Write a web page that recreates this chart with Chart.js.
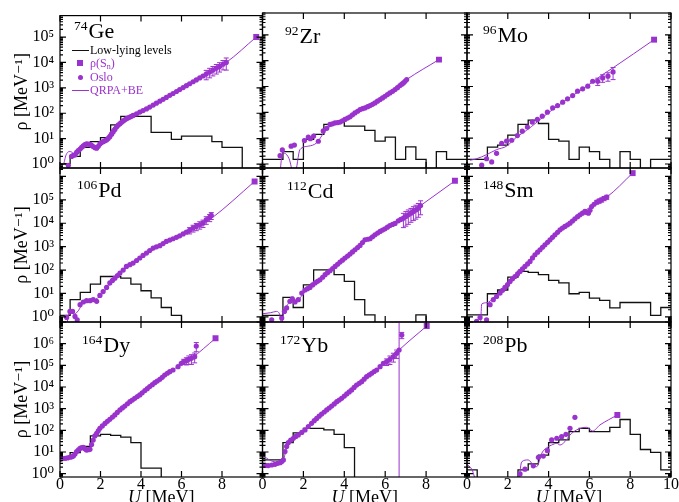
<!DOCTYPE html>
<html>
<head>
<meta charset="utf-8">
<title>Level densities</title>
<script src="https://cdn.jsdelivr.net/npm/chart.js@4.4.1/dist/chart.umd.min.js"></script>
<style>
  html, body { margin: 0; padding: 0; background: #fff; }
  #figure { position: relative; width: 679px; height: 502px; overflow: hidden; font-family: "Liberation Serif", "DejaVu Serif", serif; }
  #figure canvas { position: absolute; left: 0; top: 0; }
  .nucleus { position: absolute; font-size: 22px; line-height: 22px; white-space: nowrap; color: #000; }
  .nucleus sup { font-size: 13.5px; position: relative; top: -8px; vertical-align: baseline; margin-right: 1px; }
  .xtitle { position: absolute; width: 120px; text-align: center; font-size: 18px; line-height: 18px; white-space: nowrap; color: #000; }
  .legend-row { position: absolute; left: 71px; height: 14px; line-height: 14px; font-size: 12px; white-space: nowrap; }
  .legend-row .sym { position: absolute; left: 0; top: 0; width: 19px; height: 14px; }
  .legend-row .txt { position: absolute; left: 19px; top: 0; }
  .legend-row sub { font-size: 8px; vertical-align: -2px; }
</style>
</head>
<body>
<div id="figure"></div>
<script>
// ---- values ----
const levelEdges = [0, 0.5, 1, 1.5, 2, 2.5, 3, 3.5, 4, 4.5, 5, 5.5, 6, 6.5, 7, 7.5, 8, 8.5, 9, 9.5, 10];
const xTickValues = [0, 2, 4, 6, 8, 10];
const yTicksShort = [1, 10, 100, 1e3, 1e4, 1e5];
const yTicksLong = [1, 10, 100, 1e3, 1e4, 1e5, 1e6];
const rowMin = [0.7, 0.6, 0.7];
const rowMax = [7e5, 2.3e6, 1e7];

// 74Ge
const geLevels = [1.05, 2.0, 4.5, 7.6, 11, 35, 75, 75, 75, 17.6, 17.6, 9.4, 12.5, 12.5, 12.5, 7.6, 4.5, 4.5, 0, 0];
const geOsloU = [0.41, 0.57, 0.66, 0.74, 0.82, 0.9, 0.99, 1.07, 1.15, 1.23, 1.31, 1.4, 1.48, 1.56, 1.64, 1.73, 1.81, 1.89, 1.97, 2.05, 2.13, 2.22, 2.3, 2.38, 2.46, 2.55, 2.63, 2.71, 2.79, 2.87, 2.96, 3.04, 3.12, 3.2, 3.28, 3.37, 3.45, 3.53, 3.61, 3.78, 3.94, 4.1, 4.27, 4.43, 4.6, 4.76, 4.93, 5.09, 5.25, 5.42, 5.58, 5.75, 5.91, 6.08, 6.24, 6.4, 6.57, 6.73, 6.9, 7.06, 7.22, 7.39, 7.55, 7.72, 7.88, 8.05, 8.21];
const geOsloRho = [0.9, 2.0, 2.2, 2.3, 2.9, 3.4, 3.9, 4.6, 5.2, 5.9, 6.2, 6.1, 6.0, 5.4, 4.9, 4.4, 4.2, 5.0, 6.2, 7.0, 7.6, 8.2, 8.9, 10.2, 12, 15, 18.6, 23, 29, 34, 39, 44, 50, 55, 61, 66, 71, 76, 82, 95, 111, 128, 148, 175, 210, 250, 300, 355, 420, 510, 600, 720, 860, 1030, 1220, 1450, 1740, 2060, 2470, 2930, 3480, 4180, 4950, 5900, 7000, 8500, 10000];
const geOsloErr = [1400, 1700, 2000, 2400, 2800, 3400, 5000]; // last points only
const geQrpaU = [0, 0.16, 0.3, 0.45, 0.62, 0.74, 0.9, 1.15, 1.35, 1.55, 1.8, 2.0, 2.3, 2.6, 3.0, 3.5, 4.0, 5.0, 6.0, 7.0, 8.0, 8.21, 9.69];
const geQrpaRho = [1.0, 1.0, 2.3, 3.1, 2.8, 2.0, 2.5, 4.3, 6.5, 5.6, 3.7, 6.1, 11, 25, 50, 80, 112, 320, 950, 2800, 8000, 10000, 100000];
const geSn = [9.69, 100000];

// 92Zr
const zrLevels = [1.5, 1.5, 3.0, 1.5, 8.9, 14, 34, 42, 29, 29, 20, 7.7, 11, 1.5, 4.6, 1.5, 0, 3.0, 1.5, 1.5];
const zrOsloU = [0.86, 0.97, 1.4, 1.56, 2.05, 2.24, 2.34, 2.5, 2.73, 2.97, 3.14, 3.3, 3.42, 3.54, 3.67, 3.79, 3.91, 4.03, 4.16, 4.28, 4.4, 4.52, 4.65, 4.77, 4.89, 5.01, 5.14, 5.26, 5.38, 5.5, 5.62, 5.75, 5.87, 5.99, 6.11, 6.23, 6.36, 6.48, 6.6, 6.72, 6.81, 6.89, 6.97, 7.05];
const zrOsloRho = [2.1, 3.5, 4.9, 5.4, 8.1, 11, 9.5, 12, 7.6, 19, 24, 34, 36, 39, 40, 42, 47, 53, 60, 67, 80, 95, 110, 128, 138, 148, 165, 183, 205, 232, 270, 312, 360, 420, 490, 564, 650, 760, 900, 1086, 1230, 1380, 1600, 1860];
const zrOsloErr = [];
const zrQrpaU = [0.86, 0.95, 1.07, 1.3, 1.5, 1.6, 1.83, 2.24, 2.65, 3.06, 3.38, 3.79, 4.28, 5.01, 5.99, 7.05, 8.63];
const zrQrpaRho = [0.5, 2.0, 2.6, 1.6, 0.5, 0.5, 3.6, 4.9, 6.6, 19, 31, 42, 67, 148, 420, 1860, 11000];
const zrSn = [8.63, 11000];

// 96Mo
const moLevels = [1.5, 1.5, 4.5, 5.4, 13, 34, 50, 37, 8.9, 7.7, 1.5, 4.5, 3.0, 1.5, 0, 3.0, 1.5, 0, 1.5, 1.5];
const moOsloU = [0.72, 0.96, 1.21, 1.45, 1.70, 1.94, 2.19, 2.47, 2.71, 2.96, 3.20, 3.45, 3.69, 3.94, 4.20, 4.44, 4.69, 4.93, 5.18, 5.42, 5.67, 5.92, 6.16, 6.41, 6.65, 6.91, 7.16];
const moOsloRho = [0.9, 1.6, 1.2, 2.6, 6.3, 7.7, 8.3, 12.6, 18.6, 27, 42, 53, 71, 101, 148, 183, 247, 333, 447, 661, 813, 1030, 1600, 1600, 2150, 2500, 3650];
const moOsloErr = [500, 700, 900, 1800];
const moQrpaU = [0.15, 0.47, 0.96, 1.45, 1.94, 2.43, 2.92, 3.43, 3.94, 4.93, 5.92, 6.65, 7.16, 9.17];
const moQrpaRho = [1.4, 1.6, 2.3, 3.6, 4.9, 11, 20, 42, 90, 330, 1100, 2900, 5300, 65000];
const moSn = [9.17, 65000];

// 106Pd
const pdLevels = [1.15, 5.4, 11, 25, 53, 53, 45, 25, 13, 6.4, 2.5, 1.15, 0, 0, 0, 0, 0, 0, 0, 0];
const pdOsloU = [0.33, 0.49, 0.62, 0.74, 0.85, 0.99, 1.15, 1.31, 1.48, 1.64, 1.81, 1.97, 2.13, 2.30, 2.46, 2.59, 2.71, 2.84, 2.96, 3.12, 3.28, 3.45, 3.61, 3.78, 3.94, 4.1, 4.27, 4.43, 4.6, 4.76, 4.93, 5.09, 5.25, 5.42, 5.58, 5.75, 5.91, 6.08, 6.24, 6.4, 6.57, 6.73, 6.9, 7.06, 7.22, 7.39, 7.47];
const pdOsloRho = [0.94, 1.7, 1.7, 1.04, 0.74, 3.3, 4.3, 4.9, 4.9, 5.4, 4.6, 8.2, 12, 18, 28, 36, 45, 58, 74, 100, 143, 170, 198, 255, 327, 420, 530, 680, 870, 980, 1100, 1350, 1670, 1900, 2170, 2500, 2900, 3500, 4170, 5000, 6200, 7300, 8600, 10100, 14000, 17700, 21500];
const pdOsloErr = [1500, 2000, 2500, 3000, 3500, 5000, 6000, 7000];
const pdQrpaU = [0.33, 0.5, 0.7, 0.9, 1.15, 1.5, 1.97, 2.46, 2.96, 3.94, 4.93, 5.91, 6.9, 7.47, 9.61];
const pdQrpaRho = [0.5, 1.8, 1.3, 1.8, 4.0, 4.7, 7.5, 24, 70, 320, 1050, 2900, 8000, 16000, 611000];
const pdSn = [9.61, 611000];

// 112Cd
const cdLevels = [1.15, 1.15, 6.8, 2.5, 23, 102, 102, 63, 33, 5.4, 1.2, 0, 0, 0, 0, 1.2, 0, 0, 0, 0];
const cdOsloU = [0.45, 0.94, 1.07, 1.18, 1.34, 1.46, 1.59, 1.75, 1.92, 2.08, 2.2, 2.32, 2.45, 2.57, 2.69, 2.81, 2.94, 3.06, 3.18, 3.30, 3.43, 3.55, 3.67, 3.79, 3.91, 4.03, 4.16, 4.28, 4.4, 4.52, 4.65, 4.77, 4.89, 5.01, 5.14, 5.26, 5.38, 5.50, 5.63, 5.75, 5.87, 5.99, 6.11, 6.23, 6.36, 6.48, 6.64, 6.76, 6.89, 7.01, 7.13, 7.26, 7.38, 7.5, 7.62, 7.73];
const cdOsloRho = [0.74, 0.88, 1.7, 2.4, 4.6, 5.9, 4.3, 5.4, 10.3, 14, 16, 18, 23, 28, 33, 38, 49, 63, 77, 93, 115, 143, 177, 219, 265, 324, 395, 480, 595, 735, 910, 1130, 1500, 1970, 2070, 2170, 2650, 3200, 3800, 4470, 5100, 5800, 6800, 8000, 8900, 9800, 12700, 14500, 16500, 19500, 23000, 27000, 32000, 37000, 44000, 57000];
const cdOsloErr = [10000, 12000, 14000, 16000, 19000, 22000, 26000, 34000];
const cdQrpaU = [0, 0.4, 0.69, 0.85, 0.94, 1.05, 1.2, 1.46, 1.7, 2.0, 2.5, 3.0, 4.0, 5.0, 6.0, 7.0, 7.73, 9.41];
const cdQrpaRho = [1.35, 1.5, 1.7, 1.2, 0.5, 1.5, 3.0, 5.5, 5.0, 10, 26, 58, 300, 1900, 5800, 20000, 57000, 650000];
const cdSn = [9.41, 650000];

// 148Sm
const smLevels = [1.2, 1.2, 9.7, 14, 50, 87, 79, 63, 36, 28, 9.7, 11, 6.3, 5.0, 2.4, 4.1, 4.1, 4.1, 1.15, 2.5];
const smOsloU = [0.47, 0.64, 0.96, 1.13, 1.29, 1.45, 1.62, 1.74, 1.86, 1.99, 2.11, 2.23, 2.35, 2.48, 2.60, 2.72, 2.84, 2.97, 3.09, 3.21, 3.33, 3.46, 3.58, 3.70, 3.82, 3.95, 4.07, 4.19, 4.31, 4.44, 4.56, 4.68, 4.80, 4.93, 5.05, 5.17, 5.29, 5.42, 5.54, 5.66, 5.78, 5.87, 5.95, 6.03, 6.11, 6.23, 6.36, 6.48, 6.60, 6.72, 6.85];
const smOsloRho = [0.64, 0.94, 0.75, 3.3, 5.4, 7.4, 10.3, 13.5, 18, 24, 32.5, 42, 53, 68, 87, 112, 143, 183, 234, 330, 450, 580, 735, 940, 1200, 1530, 1960, 2500, 3200, 4100, 5250, 6200, 7300, 8600, 10100, 12500, 15500, 19000, 23000, 27000, 32000, 29000, 27000, 36000, 52000, 65000, 80000, 90000, 100000, 115000, 131000];
const smOsloErr = [15000, 18000, 20000, 23000, 26000];
const smQrpaU = [0.67, 0.72, 0.98, 1.3, 1.86, 2.6, 3.58, 4.56, 5.54, 6.36, 6.85, 8.12];
const smQrpaRho = [0.5, 3.5, 4.0, 6.5, 19, 90, 740, 5300, 23000, 80000, 131000, 1390000];
const smSn = [8.12, 1390000];

// 164Dy
const dyLevels = [5.1, 9.3, 18, 55, 65, 59, 48, 27, 1.8, 1.8, 0, 0, 0, 0, 0, 0, 0, 0, 0, 0];
const dyOsloU = [0, 0.12, 0.25, 0.37, 0.49, 0.58, 0.66, 0.74, 0.82, 0.91, 0.99, 1.07, 1.15, 1.23, 1.31, 1.4, 1.48, 1.56, 1.64, 1.72, 1.81, 1.89, 1.97, 2.09, 2.22, 2.34, 2.46, 2.59, 2.71, 2.83, 2.96, 3.08, 3.20, 3.33, 3.45, 3.57, 3.69, 3.82, 3.94, 4.06, 4.19, 4.31, 4.43, 4.56, 4.68, 4.8, 4.93, 5.05, 5.17, 5.3, 5.42, 5.58, 5.83, 5.99, 6.11, 6.24, 6.36, 6.49, 6.65, 6.73];
const dyOsloRho = [4.6, 5.0, 5.1, 5.3, 5.7, 6.0, 6.5, 8.0, 10.4, 12.5, 14.8, 15.5, 16.4, 14, 12.3, 12.8, 13.2, 22, 35.5, 55, 72, 95, 123, 160, 209, 260, 322, 410, 512, 670, 870, 1080, 1320, 1680, 2100, 2500, 3000, 3600, 4300, 5400, 6800, 8400, 10400, 12800, 15800, 18800, 22600, 28000, 35800, 43000, 51000, 61000, 87000, 124000, 150000, 164000, 190000, 210000, 250000, 775000];
const dyOsloErr = [40000, 60000, 80000, 100000, 120000, 350000];
const dyQrpaU = [0, 0.49, 0.82, 0.99, 1.15, 1.31, 1.48, 1.64, 1.81, 2.46, 3.45, 4.43, 5.42, 6.49, 7.68];
const dyQrpaRho = [4.6, 5.7, 10, 14, 15, 12, 13, 36, 72, 322, 2100, 10400, 51000, 210000, 1760000];
const dySn = [7.68, 1760000];

// 172Yb
const ybLevels = [4.3, 4.3, 27, 77, 123, 123, 104, 65, 16, 0, 0, 0, 0, 0, 0, 0, 0, 0, 0, 0];
const ybOsloU = [0, 0.14, 0.28, 0.45, 0.61, 0.74, 0.86, 0.94, 1.02, 1.1, 1.18, 1.26, 1.38, 1.51, 1.63, 1.75, 1.92, 2.08, 2.24, 2.40, 2.53, 2.65, 2.77, 2.89, 3.02, 3.14, 3.26, 3.38, 3.51, 3.63, 3.75, 3.87, 4.0, 4.12, 4.24, 4.36, 4.48, 4.60, 4.73, 4.85, 4.97, 5.09, 5.22, 5.34, 5.46, 5.58, 5.75, 5.91, 6.07, 6.23, 6.40, 6.56, 6.68, 6.81];
const ybOsloRho = [2.5, 2.4, 2.35, 2.5, 2.7, 3.0, 3.2, 3.6, 4.3, 10.4, 18, 27, 35, 43, 52, 61, 80, 104, 150, 210, 280, 355, 450, 563, 700, 870, 1070, 1320, 1650, 2100, 2500, 3000, 3800, 4800, 5900, 7300, 9500, 12300, 14700, 17600, 23000, 30000, 36000, 43000, 52000, 61000, 87000, 124000, 148000, 189000, 251000, 358000, 510000, 2500000];
const ybOsloErr = [50000, 80000, 110000, 150000, 15000000, 800000];
const ybQrpaU = [0, 0.4, 0.86, 1.02, 1.26, 1.75, 2.4, 3.38, 4.36, 5.34, 6.23, 6.68, 8.03];
const ybQrpaRho = [7.2, 4.0, 3.3, 4.5, 27, 61, 210, 1320, 7300, 43000, 189000, 510000, 6500000];
const ybSn = [8.03, 6500000];

// 208Pb
const pbLevels = [1.5, 0, 0, 0, 0, 1.5, 2.8, 7.2, 27, 36, 87, 123, 87, 87, 138, 316, 65, 13, 9.5, 1.5];
const pbOsloU = [2.60, 2.84, 3.25, 3.50, 3.74, 3.94, 4.15, 4.40, 4.64, 4.85, 5.05, 5.29];
const pbOsloRho = [0.97, 1.6, 2.3, 5.7, 6.5, 11.5, 36, 43, 51, 65, 123, 396];
const pbOsloErr = [];
const pbQrpaU = [0, 0.25, 0.45, 2.52, 2.68, 3.0, 3.25, 3.42, 3.66, 3.99, 4.15, 4.40, 4.56, 4.80, 5.05, 5.37, 5.86, 6.16, 6.52, 6.93, 7.37];
const pbQrpaRho = [2.8, 1.5, 0.5, 0.5, 3.5, 4.3, 2.5, 2.1, 8.7, 17.6, 21, 25, 21, 30, 61, 104, 138, 93, 178, 302, 510];
const pbSn = [7.37, 510];

const panels = [
    { mass: '74', name: 'Ge', levels: geLevels, osloU: geOsloU, osloRho: geOsloRho, osloErr: geOsloErr, qrpaU: geQrpaU, qrpaRho: geQrpaRho, sn: geSn },
    { mass: '92', name: 'Zr', levels: zrLevels, osloU: zrOsloU, osloRho: zrOsloRho, osloErr: zrOsloErr, qrpaU: zrQrpaU, qrpaRho: zrQrpaRho, sn: zrSn },
    { mass: '96', name: 'Mo', levels: moLevels, osloU: moOsloU, osloRho: moOsloRho, osloErr: moOsloErr, qrpaU: moQrpaU, qrpaRho: moQrpaRho, sn: moSn },
    { mass: '106', name: 'Pd', levels: pdLevels, osloU: pdOsloU, osloRho: pdOsloRho, osloErr: pdOsloErr, qrpaU: pdQrpaU, qrpaRho: pdQrpaRho, sn: pdSn },
    { mass: '112', name: 'Cd', levels: cdLevels, osloU: cdOsloU, osloRho: cdOsloRho, osloErr: cdOsloErr, qrpaU: cdQrpaU, qrpaRho: cdQrpaRho, sn: cdSn },
    { mass: '148', name: 'Sm', levels: smLevels, osloU: smOsloU, osloRho: smOsloRho, osloErr: smOsloErr, qrpaU: smQrpaU, qrpaRho: smQrpaRho, sn: smSn },
    { mass: '164', name: 'Dy', levels: dyLevels, osloU: dyOsloU, osloRho: dyOsloRho, osloErr: dyOsloErr, qrpaU: dyQrpaU, qrpaRho: dyQrpaRho, sn: dySn },
    { mass: '172', name: 'Yb', levels: ybLevels, osloU: ybOsloU, osloRho: ybOsloRho, osloErr: ybOsloErr, qrpaU: ybQrpaU, qrpaRho: ybQrpaRho, sn: ybSn },
    { mass: '208', name: 'Pb', levels: pbLevels, osloU: pbOsloU, osloRho: pbOsloRho, osloErr: pbOsloErr, qrpaU: pbQrpaU, qrpaRho: pbQrpaRho, sn: pbSn },
];

// ---- layout ----
const W = 679, H = 502;
const colEdges = [60, 262.5, 467, 671];
const rowEdges = [13, 168, 322, 477];
const labelPos = [[74, 38], [285, 43], [483, 42], [77, 197], [287, 198], [483, 197], [82, 352], [280, 352], [483, 352]];
const PURPLE = '#9a32cd';
const FONT = "'Liberation Serif', 'DejaVu Serif', serif";
const SUP = { '-1': '⁻¹', '0': '⁰', '1': '¹', '2': '²', '3': '³', '4': '⁴', '5': '⁵', '6': '⁶', '7': '⁷' };

function powerLabel(v) {
    const e = Math.round(Math.log10(v));
    return '10' + SUP[String(e)];
}

// inward ticks on all four sides + frame
const framePlugin = {
    id: 'frame',
    afterDraw(chart) {
        const { ctx, chartArea: a } = chart;
        const x = chart.scales.x, y = chart.scales.y;
        ctx.save();
        ctx.strokeStyle = '#000';
        ctx.lineWidth = 1.2;
        ctx.beginPath();
        xTickValues.forEach(v => {
            const px = x.getPixelForValue(v);
            ctx.moveTo(px, a.bottom); ctx.lineTo(px, a.bottom - 6);
            ctx.moveTo(px, a.top); ctx.lineTo(px, a.top + 6);
        });
        for (let e = -1; e <= 7; e++) {
            for (let m = 1; m <= 9; m++) {
                const v = m * Math.pow(10, e);
                if (v < y.min || v > y.max) continue;
                const py = y.getPixelForValue(v);
                const len = m === 1 ? 6 : 3;
                ctx.moveTo(a.left, py); ctx.lineTo(a.left + len, py);
                ctx.moveTo(a.right, py); ctx.lineTo(a.right - len, py);
            }
        }
        ctx.stroke();
        ctx.strokeRect(a.left, a.top, a.right - a.left, a.bottom - a.top);
        ctx.restore();
    }
};

// vertical error bars for the last Oslo points
const errorBarPlugin = {
    id: 'errorBars',
    afterDatasetsDraw(chart) {
        const { ctx, chartArea: a } = chart;
        const y = chart.scales.y;
        ctx.save();
        ctx.beginPath();
        ctx.rect(a.left, a.top, a.right - a.left, a.bottom - a.top);
        ctx.clip();
        chart.data.datasets.forEach((ds, i) => {
            if (!ds.errorBars || !ds.errorBars.length) return;
            const meta = chart.getDatasetMeta(i);
            const off = ds.data.length - ds.errorBars.length;
            ctx.strokeStyle = PURPLE;
            ctx.lineWidth = 1;
            ds.errorBars.forEach((err, k) => {
                const pt = meta.data[off + k];
                const v = ds.data[off + k].y;
                const top = y.getPixelForValue(v + err);
                const bot = v - err > 0 ? y.getPixelForValue(v - err) : a.bottom + 5;
                ctx.beginPath();
                ctx.moveTo(pt.x, top); ctx.lineTo(pt.x, bot);
                ctx.moveTo(pt.x - 2.5, top); ctx.lineTo(pt.x + 2.5, top);
                ctx.moveTo(pt.x - 2.5, bot); ctx.lineTo(pt.x + 2.5, bot);
                ctx.stroke();
            });
        });
        ctx.restore();
    }
};

function makePanel(p, idx) {
    const row = Math.floor(idx / 3), col = idx % 3;
    const fig = document.getElementById('figure');
    const canvas = document.createElement('canvas');
    canvas.width = W;
    canvas.height = H;
    fig.appendChild(canvas);

    // empty bins drop below the axis
    const levelData = levelEdges.map((e, i) => {
        const v = p.levels[Math.min(i, p.levels.length - 1)];
        return { x: e, y: v > 0 ? v : 1e-3 };
    });

    const showY = col === 0;
    const showX = row === 2;

    new Chart(canvas, {
        type: 'line',
        data: {
            datasets: [
                {
                    label: 'ρ(Sn)',
                    data: [{ x: p.sn[0], y: p.sn[1] }],
                    showLine: false,
                    pointStyle: 'rect',
                    pointRadius: 4.2,
                    pointBackgroundColor: PURPLE,
                    pointBorderWidth: 0,
                },
                {
                    label: 'Oslo',
                    data: p.osloU.map((u, i) => ({ x: u, y: p.osloRho[i] })),
                    showLine: false,
                    pointRadius: 2.6,
                    pointBackgroundColor: PURPLE,
                    pointBorderWidth: 0,
                    errorBars: p.osloErr,
                },
                {
                    label: 'QRPA+BE',
                    data: p.qrpaU.map((u, i) => ({ x: u, y: p.qrpaRho[i] })),
                    borderColor: PURPLE,
                    borderWidth: 1,
                    pointRadius: 0,
                    cubicInterpolationMode: 'monotone',
                },
                {
                    label: 'Low-lying levels',
                    data: levelData,
                    stepped: true,
                    borderColor: '#111',
                    borderWidth: 1.3,
                    pointRadius: 0,
                },
            ],
        },
        options: {
            responsive: false,
            animation: false,
            events: [],
            layout: {
                padding: {
                    left: showY ? 0 : colEdges[col],
                    right: W - colEdges[col + 1],
                    top: rowEdges[row],
                    bottom: showX ? 0 : H - rowEdges[row + 1],
                },
            },
            plugins: { legend: { display: false }, tooltip: { enabled: false } },
            scales: {
                x: {
                    type: 'linear',
                    min: 0,
                    max: 10,
                    display: showX,
                    grid: { display: false, drawTicks: false },
                    border: { display: false },
                    afterBuildTicks: s => {
                        s.ticks = xTickValues.filter(v => col === 2 || v < 10).map(v => ({ value: v }));
                    },
                    afterFit: s => { s.height = showX ? H - rowEdges[3] : 0; },
                    ticks: {
                        color: '#000',
                        font: { family: FONT, size: 16 },
                        padding: -2,
                        maxRotation: 0,
                        autoSkip: false,
                    },
                },
                y: {
                    type: 'logarithmic',
                    min: rowMin[row],
                    max: rowMax[row],
                    display: showY,
                    grid: { display: false, drawTicks: false },
                    border: { display: false },
                    afterBuildTicks: s => {
                        s.ticks = (row === 2 ? yTicksLong : yTicksShort).map(v => ({ value: v }));
                    },
                    afterFit: s => { s.width = showY ? colEdges[0] : 0; },
                    ticks: {
                        color: '#000',
                        font: { family: FONT, size: 16 },
                        padding: 6,
                        autoSkip: false,
                        callback: v => powerLabel(v),
                    },
                    title: {
                        display: true,
                        text: 'ρ [MeV⁻¹]',
                        color: '#000',
                        font: { family: FONT, size: 18 },
                        padding: { top: 11, bottom: 0 },
                    },
                },
            },
        },
        plugins: [errorBarPlugin, framePlugin],
    });

    // nucleus label
    const lab = document.createElement('div');
    lab.className = 'nucleus';
    lab.style.left = labelPos[idx][0] + 'px';
    lab.style.top = (labelPos[idx][1] - 18.4) + 'px';
    lab.innerHTML = '<sup>' + p.mass + '</sup>' + p.name;
    fig.appendChild(lab);

    // x axis title under the bottom row (italic U), cut by the lower edge
    if (showX) {
        const t = document.createElement('div');
        t.className = 'xtitle';
        t.style.left = ((colEdges[col] + colEdges[col + 1]) / 2 - 60) + 'px';
        t.style.top = '488px';
        t.innerHTML = '<i>U</i> [MeV]';
        fig.appendChild(t);
    }
}

function makeLegend() {
    const fig = document.getElementById('figure');
    const items = [
        { html: 'Low-lying levels', color: '#000', sym: 'line', cy: 50 },
        { html: 'ρ(S<sub>n</sub>)', color: PURPLE, sym: 'square', cy: 63 },
        { html: 'Oslo', color: PURPLE, sym: 'dot', cy: 77 },
        { html: 'QRPA+BE', color: PURPLE, sym: 'line', cy: 90 },
    ];
    items.forEach(it => {
        const row = document.createElement('div');
        row.className = 'legend-row';
        row.style.top = (it.cy - 7) + 'px';
        row.style.color = it.color;
        let sym;
        if (it.sym === 'line') {
            sym = '<div style="position:absolute;left:1px;top:6.5px;width:17px;height:' + (it.color === '#000' ? 1.3 : 1) + 'px;background:' + (it.color === '#000' ? '#111' : PURPLE) + '"></div>';
        } else if (it.sym === 'square') {
            sym = '<div style="position:absolute;left:6px;top:4px;width:6px;height:6px;background:' + PURPLE + '"></div>';
        } else {
            sym = '<div style="position:absolute;left:6.5px;top:4.5px;width:5px;height:5px;border-radius:50%;background:' + PURPLE + '"></div>';
        }
        row.innerHTML = '<span class="sym">' + sym + '</span><span class="txt">' + it.html + '</span>';
        fig.appendChild(row);
    });
}

document.addEventListener('DOMContentLoaded', function () {
    panels.forEach(makePanel);
    makeLegend();
});
</script>
</body>
</html>
